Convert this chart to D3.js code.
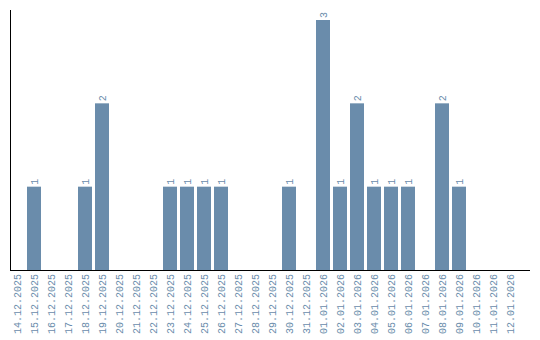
<!DOCTYPE html>
<html>
<head>
<meta charset="utf-8">
<script src="https://cdn.jsdelivr.net/npm/d3@7"></script>
<style>
  body { margin: 0; background: #fff; }
  .lbl { font-family: "Liberation Mono", monospace; font-size: 10px; fill: #6a8cab; }
</style>
</head>
<body>
<div id="chart"></div>
<script>
// Data: one entry per day
const dates = [
    "14.12.2025", "15.12.2025", "16.12.2025", "17.12.2025", "18.12.2025",
    "19.12.2025", "20.12.2025", "21.12.2025", "22.12.2025", "23.12.2025",
    "24.12.2025", "25.12.2025", "26.12.2025", "27.12.2025", "28.12.2025",
    "29.12.2025", "30.12.2025", "31.12.2025", "01.01.2026", "02.01.2026",
    "03.01.2026", "04.01.2026", "05.01.2026", "06.01.2026", "07.01.2026",
    "08.01.2026", "09.01.2026", "10.01.2026", "11.01.2026", "12.01.2026"
];
const counts = [
    0, 1, 0, 0, 1,
    2, 0, 0, 0, 1,
    1, 1, 1, 0, 0,
    0, 1, 0, 3, 1,
    2, 1, 1, 1, 0,
    2, 1, 0, 0, 0
];

const width = 540, height = 340;
const padding = {top: 10, right: 10, bottom: 70, left: 10};
const baseY = height - padding.bottom;

const svg = d3.select("#chart")
    .append("svg")
    .attr("width", width)
    .attr("height", height);

// Scales
const xScale = d3.scaleBand()
    .domain(dates)
    .range([padding.left, padding.left + 507])
    .paddingInner(3 / 17)
    .paddingOuter(0);

const yScale = d3.scaleLinear()
    .domain([0, d3.max(counts)])
    .range([baseY, 20]);

const data = dates.map((d, i) => ({date: d, count: counts[i]}));

// Bars
svg.selectAll(".bar")
    .data(data.filter(d => d.count > 0))
    .enter()
        .append("rect")
        .attr("class", "bar")
        .attr("x", d => xScale(d.date))
        .attr("y", d => yScale(d.count))
        .attr("width", xScale.bandwidth())
        .attr("height", d => baseY - yScale(d.count))
        .attr("fill", "#6a8cab");

// Value labels above bars (rotated)
svg.selectAll(".val")
    .data(data.filter(d => d.count > 0))
    .enter()
        .append("text")
        .attr("class", "lbl")
        .attr("transform", d => "translate(" + (xScale(d.date) + xScale.bandwidth() / 2) + "," + (yScale(d.count) - 2) + ") rotate(-90)")
        .attr("dy", "0.35em")
        .attr("text-anchor", "start")
        .text(d => d.count);

// Date labels under the axis
svg.selectAll(".date")
    .data(dates)
    .enter()
        .append("text")
        .attr("class", "lbl")
        .attr("transform", d => "translate(" + (xScale(d) + xScale.bandwidth() / 2) + "," + (baseY + 4) + ") rotate(-90)")
        .attr("dy", "0.35em")
        .attr("text-anchor", "end")
        .text(d => d);

// Axis lines
svg.append("line")
    .attr("x1", padding.left + 0.5).attr("x2", padding.left + 0.5)
    .attr("y1", padding.top).attr("y2", baseY + 1)
    .attr("stroke", "#000");

svg.append("line")
    .attr("x1", padding.left).attr("x2", width - padding.right)
    .attr("y1", baseY + 0.5).attr("y2", baseY + 0.5)
    .attr("stroke", "#000");
</script>
</body>
</html>
